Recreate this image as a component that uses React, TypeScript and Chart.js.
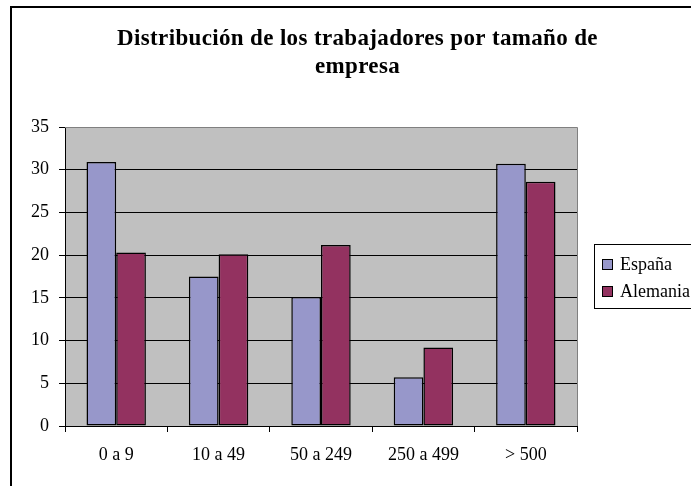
import React, { useEffect, useRef } from 'react';
import { Chart, registerables } from 'chart.js';

Chart.register(...registerables);

const categories = ['0 a 9', '10 a 49', '50 a 249', '250 a 499', '> 500'];
const espana = [30.9, 17.5, 15.1, 5.7, 30.7];
const alemania = [20.3, 20.1, 21.2, 9.2, 28.6];
const seriesNames = ['España', 'Alemania'];
const seriesColors = ['#9797CA', '#933260'];
const titleLines = ['Distribución de los trabajadores por tamaño de', 'empresa'];
const yMin = 0;
const yMax = 35;
const yStep = 5;

const FONT = '"Liberation Serif", "Times New Roman", serif';

export default function App() {
  const canvasRef = useRef<HTMLCanvasElement | null>(null);

  useEffect(() => {
    document.body.style.margin = '0';
    const canvas = canvasRef.current;
    if (!canvas) return;

    const decor = {
      id: 'decor',
      beforeDraw(chart: any) {
        const ctx = chart.ctx;
        const a = chart.chartArea;
        ctx.save();
        ctx.fillStyle = '#ffffff';
        ctx.fillRect(0, 0, chart.width, chart.height);
        ctx.strokeStyle = '#000000';
        ctx.lineWidth = 2;
        ctx.strokeRect(11, 7, 2000, 2000);
        ctx.fillStyle = '#C0C0C0';
        ctx.fillRect(a.left, a.top, a.right - a.left, a.bottom - a.top);
        ctx.restore();
      },
      afterDraw(chart: any) {
        const ctx = chart.ctx;
        const a = chart.chartArea;
        ctx.save();
        // plot area border (top & right)
        ctx.strokeStyle = '#808080';
        ctx.lineWidth = 1;
        ctx.beginPath();
        ctx.moveTo(a.left, Math.round(a.top) + 0.5);
        ctx.lineTo(Math.round(a.right) + 0.5, Math.round(a.top) + 0.5);
        ctx.lineTo(Math.round(a.right) + 0.5, a.bottom);
        ctx.stroke();

        // title
        ctx.fillStyle = '#000000';
        ctx.font = `bold 23px ${FONT}`;
        try {
          (ctx as any).letterSpacing = '0.35px';
        } catch (e) {}
        ctx.textAlign = 'center';
        ctx.textBaseline = 'alphabetic';
        ctx.fillText(titleLines[0], 357.5, 45);
        ctx.fillText(titleLines[1], 357.5, 73);
        try {
          (ctx as any).letterSpacing = '0px';
        } catch (e) {}

        // legend
        ctx.strokeStyle = '#000000';
        ctx.lineWidth = 1;
        ctx.strokeRect(594.5, 244.5, 200, 64);
        ctx.font = `18px ${FONT}`;
        ctx.textAlign = 'left';
        ctx.textBaseline = 'middle';
        const ys = [264, 291];
        chart.data.datasets.forEach((ds: any, i: number) => {
          const y = ys[i];
          ctx.fillStyle = ds.backgroundColor;
          ctx.fillRect(602, y - 5, 10, 10);
          ctx.strokeStyle = '#000000';
          ctx.strokeRect(602.5, y - 4.5, 10, 10);
          ctx.fillStyle = '#000000';
          ctx.fillText(ds.label, 620, y + 1);
        });
        ctx.restore();
      },
    };

    const chart = new Chart(canvas, {
      type: 'bar',
      data: {
        labels: categories,
        datasets: [
          {
            label: seriesNames[0],
            data: espana,
            backgroundColor: seriesColors[0],
            borderColor: '#000000',
            borderWidth: 1.5,
            borderSkipped: false,
            barPercentage: 1,
            categoryPercentage: 0.58,
          },
          {
            label: seriesNames[1],
            data: alemania,
            backgroundColor: seriesColors[1],
            borderColor: '#000000',
            borderWidth: 1.5,
            borderSkipped: false,
            barPercentage: 1,
            categoryPercentage: 0.58,
          },
        ],
      },
      options: {
        responsive: false,
        animation: false,
        devicePixelRatio: 1,
        layout: { padding: { left: 0, top: 127, right: 114, bottom: 0 } },
        plugins: {
          legend: { display: false },
          title: { display: false },
          tooltip: { enabled: false },
        },
        scales: {
          x: {
            afterFit(scale: any) {
              scale.height = 60;
            },
            grid: {
              drawOnChartArea: false,
              drawTicks: true,
              tickLength: 6,
              color: '#000000',
              tickColor: '#000000',
            },
            border: { display: true, color: '#000000', width: 1 },
            ticks: {
              color: '#000000',
              font: { family: FONT, size: 18 },
              padding: 12,
              maxRotation: 0,
            },
          },
          y: {
            min: yMin,
            max: yMax,
            afterFit(scale: any) {
              scale.width = 65;
            },
            grid: {
              drawTicks: true,
              tickLength: 6,
              color: (c: any) => (c.tick && c.tick.value === yMax ? '#808080' : '#000000'),
              tickColor: '#000000',
            },
            border: { display: true, color: '#000000', width: 1 },
            ticks: {
              stepSize: yStep,
              color: '#000000',
              font: { family: FONT, size: 18 },
              padding: 10,
            },
          },
        },
      },
      plugins: [decor],
    });

    return () => {
      chart.destroy();
    };
  }, []);

  return (
    <div style={{ width: 691, height: 486, overflow: 'hidden', position: 'relative' }}>
      <canvas ref={canvasRef} width={691} height={486} style={{ display: 'block', width: 691, height: 486 }} />
    </div>
  );
}
